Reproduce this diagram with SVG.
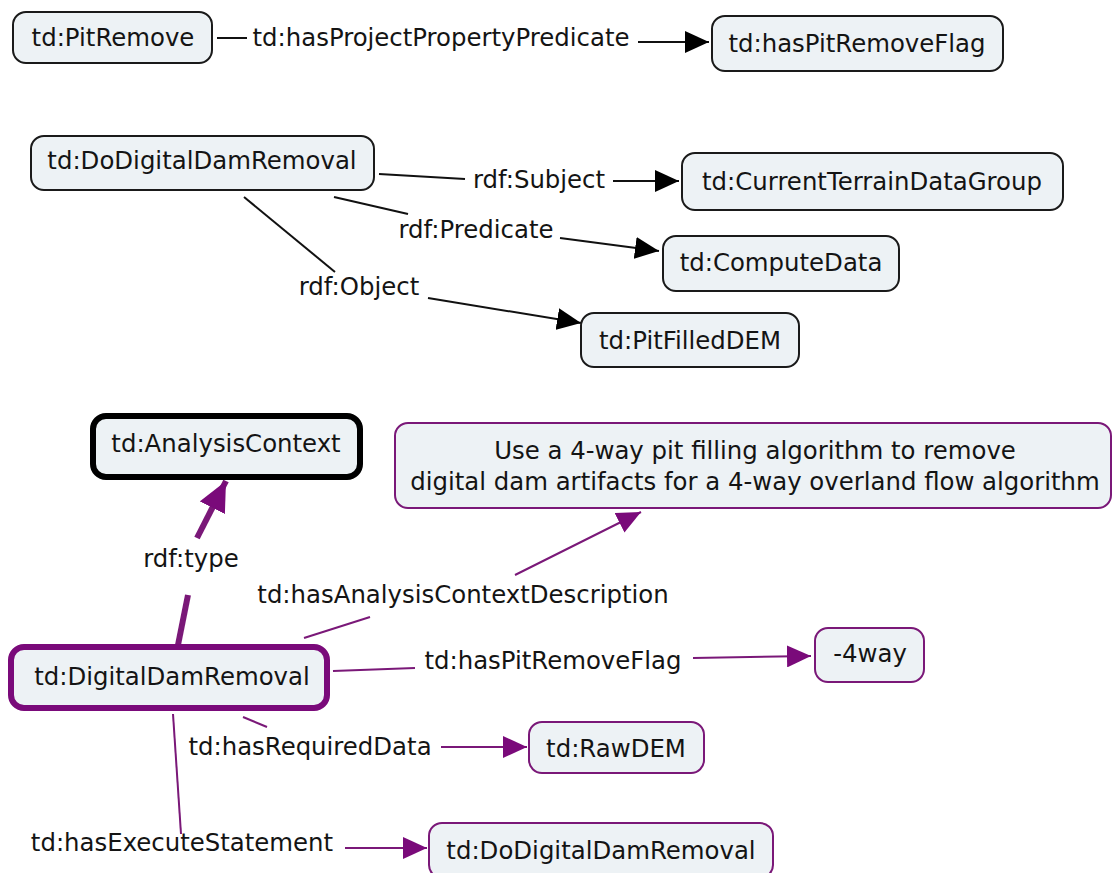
<svg xmlns="http://www.w3.org/2000/svg" width="1113" height="873" viewBox="0 0 1113 873">
<style>
  .n rect { fill: #edf2f5; rx: 13px; ry: 13px; }
  .k rect { stroke: #1a1a1a; stroke-width: 2; }
  .p rect { stroke: #7a1878; stroke-width: 2; }
  .pk rect { stroke: #7a0a7a; stroke-width: 6; }
  .bk rect { stroke: #000; stroke-width: 6; }
  text { font-family: "DejaVu Sans", Verdana, sans-serif; font-size: 24.4px; fill: #141414; text-anchor: middle; }
  .ck line, .ck path { stroke: #111; stroke-width: 2; fill: none; }
  .cp line, .cp path { stroke: #7a1878; stroke-width: 2; fill: none; }
</style>
<defs>
  <marker id="ab" markerWidth="24" markerHeight="22" refX="24" refY="11" orient="auto" markerUnits="userSpaceOnUse"><path d="M0,0 L24,11 L0,22 Z" fill="#000"/></marker>
  <marker id="ap" markerWidth="24" markerHeight="22" refX="24" refY="11" orient="auto" markerUnits="userSpaceOnUse"><path d="M0,0 L24,11 L0,22 Z" fill="#7a0a7a"/></marker>
  <marker id="apb" markerWidth="30" markerHeight="28" refX="30" refY="14" orient="auto" markerUnits="userSpaceOnUse"><path d="M0,0 L30,14 L0,28 Z" fill="#7a0a7a"/></marker>
</defs>
<rect width="1113" height="873" fill="#fff"/>

<g id="connectors">
  <g class="ck">
    <line x1="217" y1="38" x2="247" y2="38"/>
    <text x="441" y="46">td:hasProjectPropertyPredicate</text>
    <line x1="638" y1="42" x2="709" y2="42" marker-end="url(#ab)"/>

    <line x1="379" y1="174" x2="465" y2="179"/>
    <text x="539" y="188">rdf:Subject</text>
    <line x1="613" y1="181" x2="679" y2="181" marker-end="url(#ab)"/>

    <line x1="334" y1="197" x2="408" y2="214"/>
    <text x="476" y="238">rdf:Predicate</text>
    <line x1="560" y1="238" x2="659" y2="251" marker-end="url(#ab)"/>

    <line x1="244" y1="197" x2="335" y2="272"/>
    <text x="359" y="295">rdf:Object</text>
    <line x1="428" y1="298" x2="581" y2="323" marker-end="url(#ab)"/>
  </g>
  <g class="cp">
    <line x1="178" y1="645" x2="188" y2="595" style="stroke-width:6"/>
    <line x1="197" y1="538" x2="226" y2="481" style="stroke-width:6" marker-end="url(#apb)"/>
    <text x="191" y="567">rdf:type</text>

    <line x1="304" y1="638" x2="370" y2="617"/>
    <text x="463" y="603">td:hasAnalysisContextDescription</text>
    <line x1="515" y1="575" x2="641" y2="512" marker-end="url(#ap)"/>

    <line x1="333" y1="671" x2="415" y2="668"/>
    <text x="553" y="669">td:hasPitRemoveFlag</text>
    <line x1="693" y1="658" x2="811" y2="656" marker-end="url(#ap)"/>

    <line x1="243" y1="717" x2="267" y2="727"/>
    <text x="310" y="755">td:hasRequiredData</text>
    <line x1="441" y1="747" x2="527" y2="747" marker-end="url(#ap)"/>

    <line x1="173" y1="714" x2="181" y2="834"/>
    <text x="182" y="851">td:hasExecuteStatement</text>
    <line x1="345" y1="848" x2="427" y2="848" marker-end="url(#ap)"/>
  </g>
</g>

<g id="n-pitremove" class="n k"><rect x="13" y="12" width="199" height="51"/><text x="113" y="46">td:PitRemove</text></g>
<g id="n-haspitremoveflag" class="n k"><rect x="712" y="16" width="291" height="55"/><text x="857" y="52">td:hasPitRemoveFlag</text></g>
<g id="n-dodigitaldamremoval" class="n k"><rect x="31" y="136" width="343" height="54"/><text x="202" y="169">td:DoDigitalDamRemoval</text></g>
<g id="n-currentterrain" class="n k"><rect x="682" y="153" width="381" height="57"/><text x="872" y="190">td:CurrentTerrainDataGroup</text></g>
<g id="n-computedata" class="n k"><rect x="663" y="236" width="236" height="55"/><text x="781" y="271">td:ComputeData</text></g>
<g id="n-pitfilleddem" class="n k"><rect x="581" y="313" width="218" height="54"/><text x="690" y="349">td:PitFilledDEM</text></g>

<g id="n-analysiscontext" class="n bk"><rect x="93" y="416" width="267" height="61"/><text x="226" y="452">td:AnalysisContext</text></g>
<g id="n-description" class="n p"><rect x="395" y="423" width="716" height="85"/><text x="755" y="459">Use a 4-way pit filling algorithm to remove</text><text x="755" y="490">digital dam artifacts for a 4-way overland flow algorithm</text></g>
<g id="n-digitaldamremoval" class="n pk"><rect x="11" y="647" width="316" height="61"/><text x="172" y="685">td:DigitalDamRemoval</text></g>
<g id="n-4way" class="n p"><rect x="815" y="628" width="109" height="54"/><text x="870" y="662">-4way</text></g>
<g id="n-rawdem" class="n p"><rect x="529" y="722" width="175" height="51"/><text x="616" y="757">td:RawDEM</text></g>
<g id="n-execdodigital" class="n p"><rect x="429" y="823" width="344" height="55"/><text x="601" y="859">td:DoDigitalDamRemoval</text></g>
</svg>
